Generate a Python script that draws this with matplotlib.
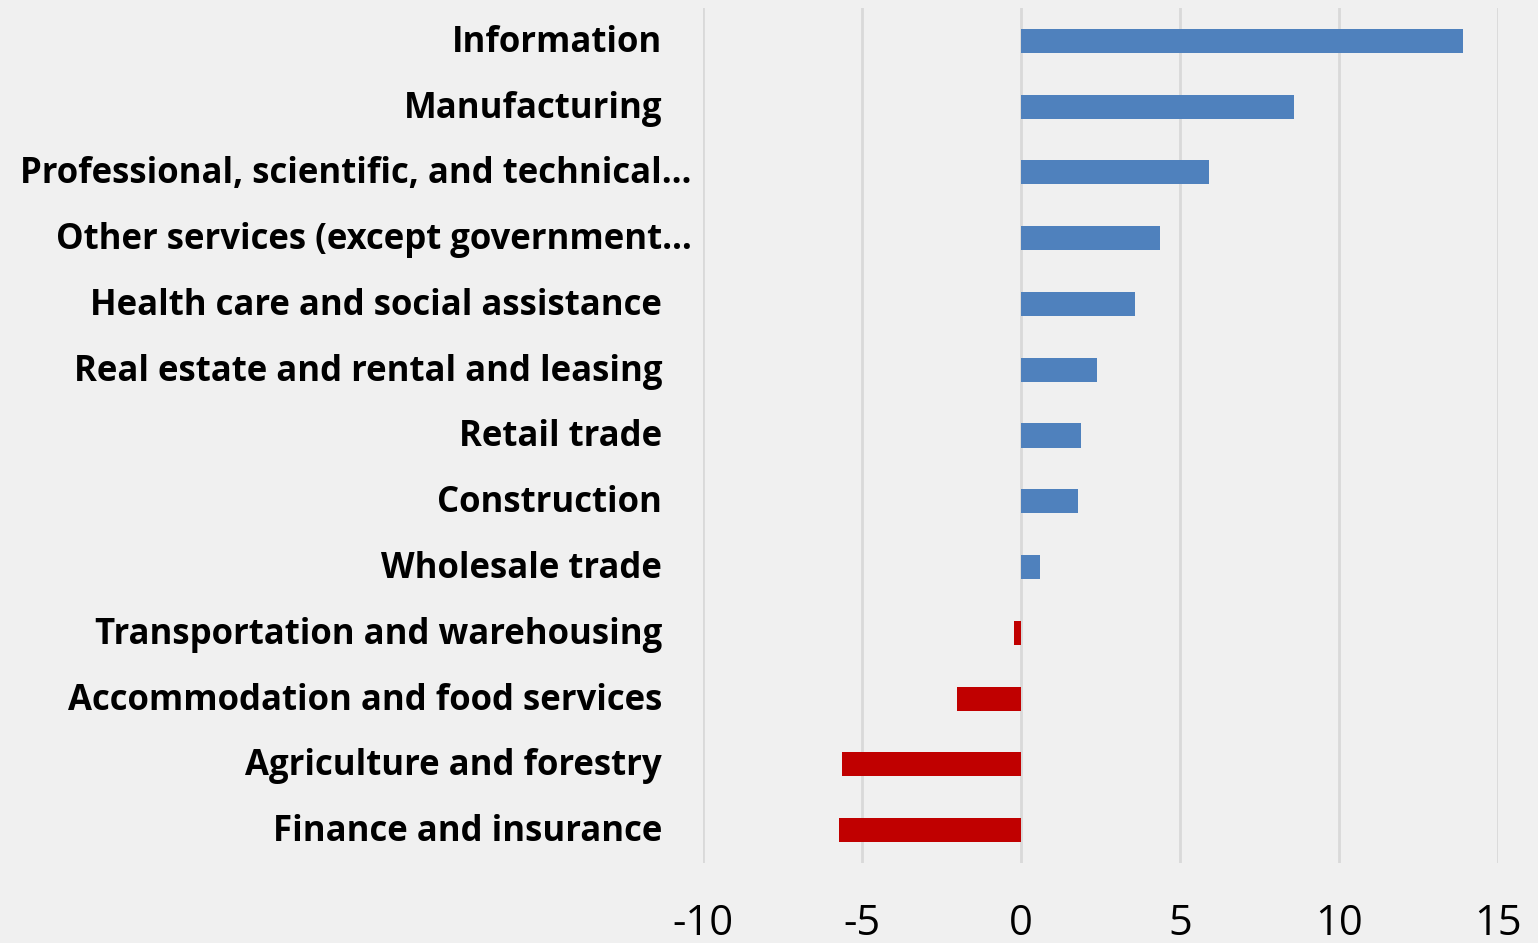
import matplotlib
matplotlib.use("Agg")
import matplotlib.pyplot as plt

categories = [
    "Information",
    "Manufacturing",
    "Professional, scientific, and technical…",
    "Other services (except government…",
    "Health care and social assistance",
    "Real estate and rental and leasing",
    "Retail trade",
    "Construction",
    "Wholesale trade",
    "Transportation and warehousing",
    "Accommodation and food services",
    "Agriculture and forestry",
    "Finance and insurance",
]
values = [13.9, 8.6, 5.9, 4.37, 3.58, 2.39, 1.89, 1.79, 0.6, -0.21, -2.0, -5.63, -5.72]
truncated = [False, False, True, True, False, False, False, False, False, False, False, False, False]
xticks = [-10, -5, 0, 5, 10, 15]

BLUE = "#4F81BD"
RED = "#C00000"
BG = "#F0F0F0"

W, H = 1538, 943
fig = plt.figure(figsize=(W / 100, H / 100), dpi=100, facecolor=BG)
ax = fig.add_axes([703 / W, 1 - 863 / H, (1498 - 703) / W, (863 - 8) / H])
ax.set_facecolor(BG)

ypos = list(range(len(categories)))
colors = [BLUE if v >= 0 else RED for v in values]
ax.barh(ypos, values, height=0.365, color=colors, zorder=3)

ax.set_xlim(-10, 15)
ax.set_ylim(len(categories) - 0.5, -0.5)
ax.set_xticks(xticks)
ax.set_xticklabels([str(t) for t in xticks], fontsize=30, family="Open Sans", color="#000000")
ax.tick_params(axis="x", length=0, pad=29)
ax.set_yticks([])
ax.grid(axis="x", color="#D9D9D9", linewidth=2, zorder=0)
for s in ax.spines.values():
    s.set_visible(False)

for y, lab, tr in zip(ypos, categories, truncated):
    off = -11 if tr else -41
    ax.annotate(lab, xy=(0, y), xycoords=ax.get_yaxis_transform(),
                xytext=(off, -2), textcoords="offset pixels",
                ha="right", va="center", fontsize=25, fontweight="bold",
                family="Open Sans", color="#000000")

fig.savefig("out.png", dpi=100, facecolor=BG)
